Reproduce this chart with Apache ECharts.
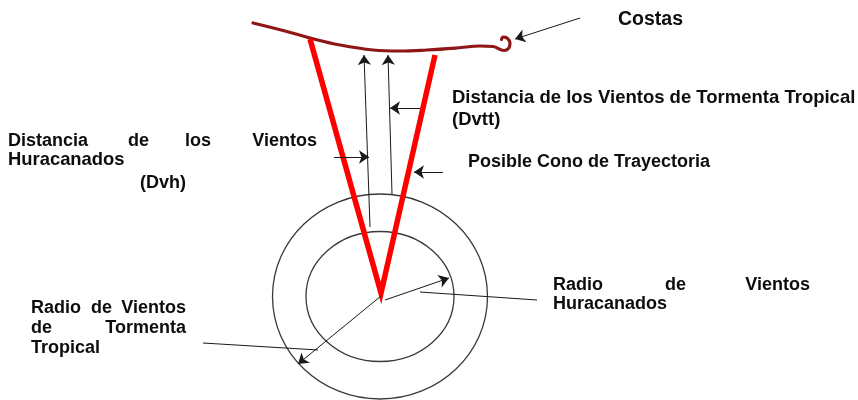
<!DOCTYPE html>
<html>
<head>
<meta charset="utf-8">
<script src="https://cdn.jsdelivr.net/npm/echarts@6/dist/echarts.min.js"></script>
<style>
html,body{margin:0;padding:0;background:#fff;}
#chart{width:858px;height:400px;}
</style>
</head>
<body>
<div id="chart"></div>
<script>
// Diagram geometry (diagram units = pixels of reference)
var coastPoints = [[253,23],[285,31],[310,38],[340,45],[373,50],[400,51],[427,50],[457,48],[480,46],[493,46.5],[504,50.5],[508.5,48.5],[510,43],[507,38],[503,37],[501.5,39.5]];
var conePoints = [[310,39],[381,293],[435,55]];
// ellipses: [cx, cy, rx, ry]
var rings = [[380,296.5,107.5,102.5],[380,296.5,74,65]];
// arrows: [x1,y1,x2,y2]
var arrows = [
  [580,18,515,39],
  [370,227,364,55],
  [392,194,388,55],
  [334,157,369,157],
  [420,108,390,108],
  [443,172,414,172],
  [385,300,449,278],
  [381,296,298,364]
];
// plain leader lines
var leaders = [[420,292,537,300],[203,343,318,350]];
// texts: [x, y, text, align, size]
var labels = [
  [618,20,'Costas','left',19.5],
  [452,98,'Distancia de los Vientos de Tormenta Tropical','left',18.5],
  [452,120,'(Dvtt)','left',18.5],
  [468,162,'Posible Cono de Trayectoria','left',18],
  [8,141.5,'Distancia','left',18],
  [128,141.5,'de','left',18],
  [185,141.5,'los','left',18],
  [317,141.5,'Vientos','right',18],
  [8,160,'Huracanados','left',18.4],
  [140,183,'(Dvh)','left',18],
  [553,285,'Radio','left',18],
  [665,285,'de','left',18],
  [810,285,'Vientos','right',18],
  [553,304,'Huracanados','left',18],
  [31,308,'Radio','left',18],
  [91,308,'de','left',18],
  [186,308,'Vientos','right',18],
  [31,328,'de','left',18],
  [186,328,'Tormenta','right',18],
  [31,348,'Tropical','left',18]
];

var chart = echarts.init(document.getElementById('chart'), null, {renderer:'canvas'});
var FONT = '"Liberation Sans", Arial, sans-serif';
var option = {
  animation: false,
  backgroundColor: '#ffffff',
  grid: {left:0, right:0, top:0, bottom:0},
  xAxis: {type:'value', min:0, max:858, show:false},
  yAxis: {type:'value', min:0, max:400, inverse:true, show:false},
  series: [
    {
      type:'custom',
      renderItem: function(params, api){
        var c = api.coord([api.value(0), api.value(1)]);
        var s = api.size([api.value(2), api.value(3)]);
        return {type:'ellipse', shape:{cx:c[0], cy:c[1], rx:s[0], ry:s[1]},
          style:{fill:'none', stroke:'#3a3a3a', lineWidth:1.3}};
      },
      data: rings, silent:true, z:1
    },
    {
      type:'line', data: coastPoints, smooth:0.4, symbol:'none', silent:true,
      lineStyle:{color:'#8e1616', width:3.2, cap:'round'}, z:3
    },
    {
      type:'line', data: conePoints, smooth:false, symbol:'none', silent:true,
      lineStyle:{color:'#ff0000', width:5.5, join:'miter', cap:'butt'}, z:4
    },
    {
      type:'lines', coordinateSystem:'cartesian2d', silent:true,
      symbol:['none','arrow'], symbolSize:[8,10],
      lineStyle:{color:'#1a1a1a', width:1, opacity:1},
      data: arrows.map(function(a){return {coords:[[a[0],a[1]],[a[2],a[3]]]};}), z:5
    },
    {
      type:'lines', coordinateSystem:'cartesian2d', silent:true,
      symbol:['none','none'],
      lineStyle:{color:'#1a1a1a', width:1, opacity:1},
      data: leaders.map(function(a){return {coords:[[a[0],a[1]],[a[2],a[3]]]};}), z:5
    },
    {
      type:'custom',
      renderItem: function(params, api){
        var d = labels[params.dataIndex];
        var c = api.coord([d[0], d[1]]);
        return {type:'text', x:c[0], y:c[1],
          style:{text:d[2], fill:'#0d0d0d', font:'bold '+d[4]+'px '+FONT, align:d[3], verticalAlign:'middle'}};
      },
      data: labels.map(function(d){return [d[0], d[1]];}), silent:true, z:6
    }
  ]
};
chart.setOption(option);
</script>
</body>
</html>
